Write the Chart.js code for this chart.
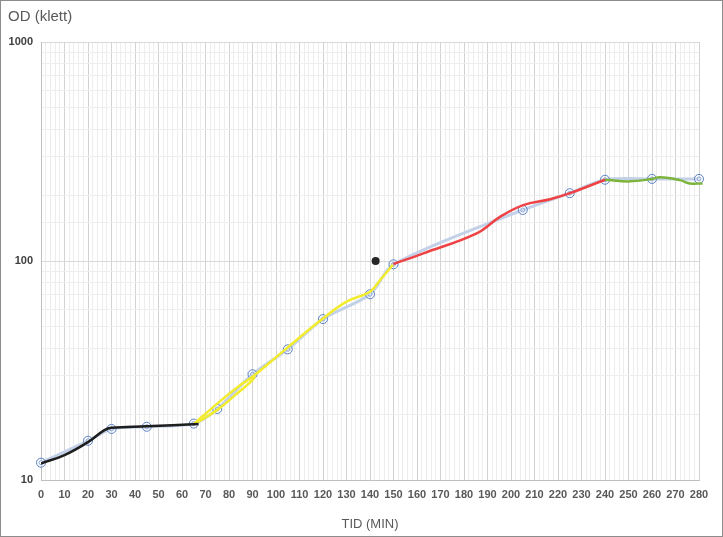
<!DOCTYPE html>
<html>
<head>
<meta charset="utf-8">
<script src="https://cdn.jsdelivr.net/npm/chart.js@4/dist/chart.umd.min.js"></script>
<style>
    html, body { margin: 0; padding: 0; background: #fff; }
    #wrap { position: relative; width: 723px; height: 537px; }
    #frame {
        position: absolute; left: 0; top: 0; width: 721px; height: 535px;
        border: 1px solid #8c8c8c; pointer-events: none;
    }
    #ytitle {
        position: absolute; left: 8px; top: 7px;
        font-family: "Liberation Sans", Arial, sans-serif; font-size: 15px; color: #595959;
    }
</style>
</head>
<body>
<div id="wrap">
    <canvas id="chart" width="723" height="537"></canvas>
    <div id="ytitle">OD (klett)</div>
    <div id="frame"></div>
</div>
<script>
// measured growth (time in minutes, OD in klett units)
const timeMin = [0, 20, 30, 45, 65, 75, 90, 105, 120, 140, 150, 205, 225, 240, 260, 280];
const odKlett = [12, 15.1, 17.1, 17.5, 18.1, 21.1, 30.4, 39.5, 54.3, 70.5, 96.6, 171, 204, 235, 237, 237];

// outlier point
const outlierTime = [142.4];
const outlierOd = [100];

// hand-drawn phase curves
const lagTime = [0, 10, 20, 27, 30, 45, 67];
const lagOd = [11.9, 13.0, 14.9, 16.9, 17.3, 17.6, 18.0];

const expTime = [65, 76, 85, 90, 104.5, 119.7, 130, 140, 144.3, 149.7];
const expOd = [18.0, 22.8, 27.2, 29.6, 39.9, 54.3, 65.2, 72.4, 81.8, 96];

const expTime2 = [66, 75, 83, 90, 91];
const expOd2 = [18.2, 20.9, 24.6, 28.6, 29.8];

const lateTime = [149.9, 162.7, 185.4, 195.3, 205.2, 216.6, 225.1, 240];
const lateOd = [96.8, 108.4, 133.8, 159, 180, 191.4, 204, 235];

const statTime = [240, 250.6, 259.9, 263.4, 271.9, 276.2, 281.5];
const statOd = [235, 231, 236.7, 241, 234, 226, 226];

const xTickStep = 2;
const xLabelStep = 10;

function pairs(xs, ys) {
    return xs.map((x, i) => ({ x: x, y: ys[i] }));
}

function isDecade(v) {
    const l = Math.log10(v);
    return Math.abs(l - Math.round(l)) < 1e-9;
}

const labelFont = { family: '"Liberation Sans", Arial, sans-serif', size: 11, weight: 'bold' };

new Chart(document.getElementById('chart'), {
    type: 'line',
    data: {
        datasets: [
            {
                label: 'Lag',
                data: pairs(lagTime, lagOd),
                borderColor: '#1e1e1e', borderWidth: 2.5,
                pointRadius: 0, tension: 0.4, order: 0
            },
            {
                label: 'Exponential',
                data: pairs(expTime, expOd),
                borderColor: '#f2ec2c', borderWidth: 2.5,
                pointRadius: 0, tension: 0.4, order: 0
            },
            {
                label: 'Exponential (2)',
                data: pairs(expTime2, expOd2),
                borderColor: '#f2ec2c', borderWidth: 2.5,
                pointRadius: 0, tension: 0.4, order: 0
            },
            {
                label: 'Late',
                data: pairs(lateTime, lateOd),
                borderColor: '#ee4245', borderWidth: 2.5,
                pointRadius: 0, tension: 0.4, order: 0
            },
            {
                label: 'Stationary',
                data: pairs(statTime, statOd),
                borderColor: '#7db43c', borderWidth: 2.5,
                pointRadius: 0, tension: 0.4, order: 0, clip: 6
            },
            {
                label: 'Outlier',
                data: pairs(outlierTime, outlierOd),
                showLine: false,
                pointRadius: 4, pointBackgroundColor: '#262626', pointBorderWidth: 0,
                order: 1
            },
            {
                label: 'Markers outer',
                data: pairs(timeMin, odKlett),
                showLine: false, clip: false,
                pointRadius: 4.5, pointBorderColor: '#5a7fc4', pointBorderWidth: 1,
                pointBackgroundColor: 'rgba(255,255,255,0.3)',
                order: 1
            },
            {
                label: 'Markers inner',
                data: pairs(timeMin, odKlett),
                showLine: false, clip: false,
                pointRadius: 2, pointBorderColor: '#5a7fc4', pointBorderWidth: 1,
                pointBackgroundColor: 'rgba(0,0,0,0)',
                order: 1
            },
            {
                label: 'OD',
                data: pairs(timeMin, odKlett),
                borderColor: '#c3d1e8', borderWidth: 3,
                pointRadius: 0, tension: 0.3, order: 2
            }
        ]
    },
    options: {
        responsive: false,
        animation: false,
        layout: { padding: { left: 0, top: 42, right: 24, bottom: 0 } },
        plugins: {
            legend: { display: false },
            tooltip: { enabled: false }
        },
        scales: {
            x: {
                type: 'linear',
                min: 0,
                max: 280,
                afterFit(scale) { scale.height = 57; },
                afterBuildTicks(scale) {
                    const ticks = [];
                    for (let v = 0; v <= 280; v += xTickStep) ticks.push({ value: v });
                    scale.ticks = ticks;
                },
                grid: {
                    drawTicks: false,
                    color: ctx => (ctx.tick && ctx.tick.value % xLabelStep === 0) ? '#d2d2d2' : '#ededed',
                    lineWidth: 1
                },
                border: { display: true, color: '#bfbfbf' },
                ticks: {
                    autoSkip: false,
                    maxRotation: 0,
                    padding: 8,
                    color: '#595959',
                    font: labelFont,
                    callback: v => (v % xLabelStep === 0 ? String(v) : '')
                },
                title: {
                    display: true,
                    text: 'TID (MIN)',
                    color: '#595959',
                    font: { family: '"Liberation Sans", Arial, sans-serif', size: 13 },
                    padding: { top: 0, bottom: 5 }
                }
            },
            y: {
                type: 'logarithmic',
                min: 10,
                max: 1000,
                afterFit(scale) { scale.width = 41; },
                grid: {
                    drawTicks: false,
                    color: ctx => (ctx.tick && isDecade(ctx.tick.value)) ? '#d9d9d9' : '#eeeeee',
                    lineWidth: 1
                },
                border: { display: true, color: '#bfbfbf' },
                ticks: {
                    autoSkip: false,
                    padding: 8,
                    color: '#404040',
                    font: labelFont,
                    callback: v => (isDecade(v) ? String(v) : '')
                }
            }
        }
    }
});
</script>
</body>
</html>
